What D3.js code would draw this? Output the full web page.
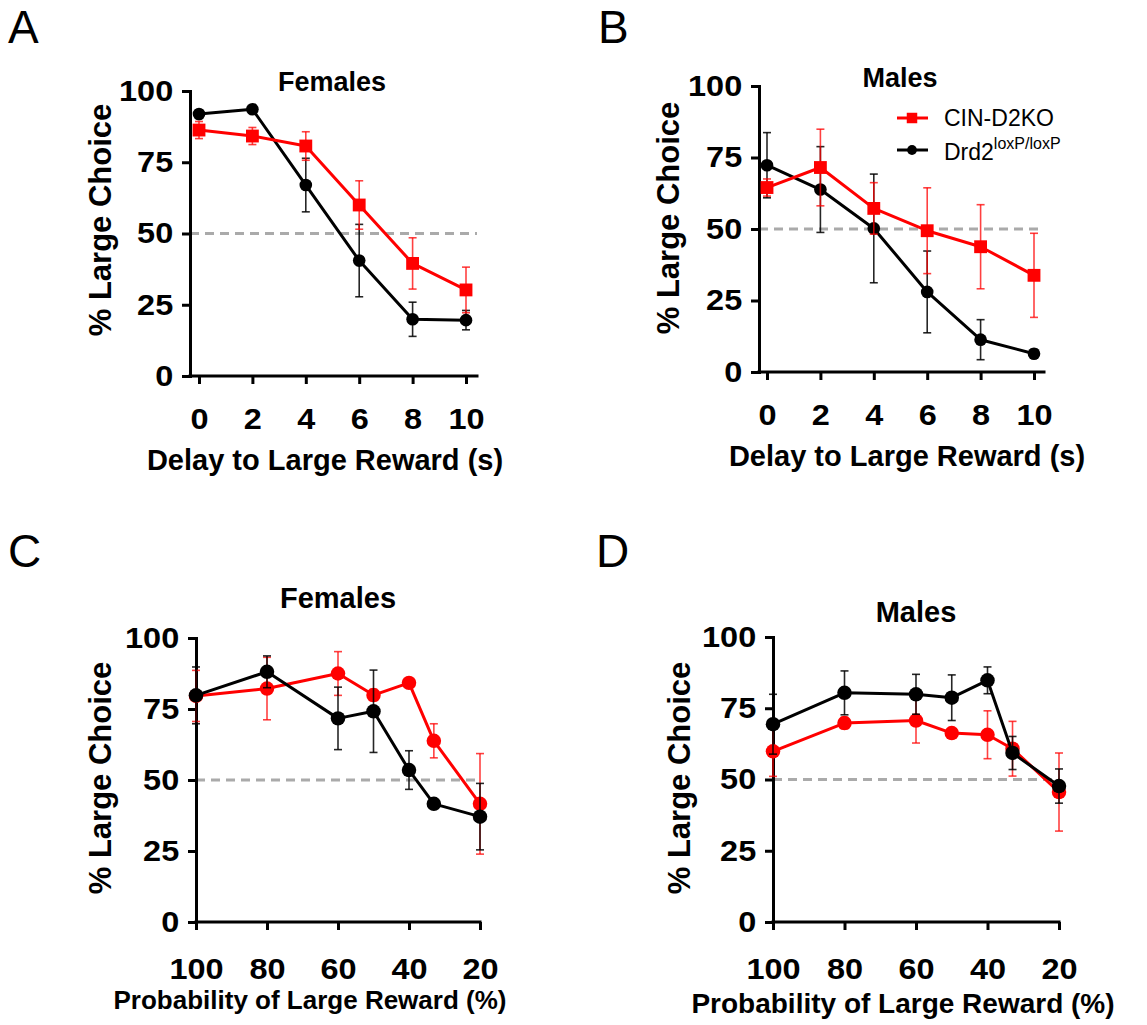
<!DOCTYPE html>
<html>
<head>
<meta charset="utf-8">
<script src="https://cdn.jsdelivr.net/npm/d3@7"></script>
<style>
body { margin: 0; background: #fff; }
text { font-family: "Liberation Sans", Arial, sans-serif; fill: #000; }
</style>
</head>
<body>
<svg id="fig" width="1147" height="1025"></svg>
<script>
// values (mean and sem, % large choice)
const delays = [0, 2, 4, 6, 8, 10]
const probs = [100, 80, 60, 50, 40, 33, 20]
const probTicks = [100, 80, 60, 40, 20]
const yTicks = [0, 25, 50, 75, 100]

const koFemDelay = [86.3, 84.2, 80.7, 60.0, 39.5, 30.2]
const koFemDelayErr = [3.0, 3.0, 5.0, 8.5, 9.0, 8.0]
const ctlFemDelay = [91.9, 93.6, 67.0, 40.5, 19.9, 19.6]
const ctlFemDelayErr = [1.5, 1.2, 9.4, 12.7, 6.0, 3.4]

const koMaleDelay = [64.5, 71.5, 57.2, 49.4, 43.8, 33.8]
const koMaleDelayErr = [3.0, 13.4, 9.0, 15.0, 14.7, 14.7]
const ctlMaleDelay = [72.3, 63.8, 50.2, 28.0, 11.3, 6.4]
const ctlMaleDelayErr = [11.4, 15.0, 19.0, 14.3, 7.0, 1.5]

const koFemProb = [79.6, 82.2, 87.5, 79.9, 84.2, 63.8, 41.6]
const koFemProbErr = [9.0, 11.0, 7.7, 2.0, 1.0, 6.0, 17.7]
const ctlFemProb = [79.8, 88.1, 71.7, 74.2, 53.5, 41.6, 37.1]
const ctlFemProbErr = [10.0, 5.6, 11.0, 14.5, 6.8, 1.0, 11.7]

const koMaleProb = [59.9, 69.8, 70.7, 66.3, 65.7, 60.8, 45.6]
const koMaleProbErr = [8.8, 2.0, 7.9, 1.5, 8.4, 9.6, 13.7]
const ctlMaleProb = [69.4, 80.4, 79.9, 78.7, 84.8, 59.3, 47.7]
const ctlMaleProbErr = [10.5, 7.7, 7.0, 8.0, 4.7, 5.8, 6.0]

const RED = '#ff0000'
const BLACK = '#000000'

const svg = d3.select('#fig')

const panels = [
  {
    letter: 'A', lx: 8, ly: 43, title: 'Females', tx: 332, ty: 91, tsize: 27,
    xs: delays, xTicks: delays, xDom: [0, 10], xRange: [199, 466],
    axisX: 190, axisEnd: 477, y0: 376, y100: 91, xPad: 24,
    xlabel: 'Delay to Large Reward (s)', xlx: 325, xly: 470, xlsize: 29,
    ylx: 111, yly: 220,
    ko: koFemDelay, koErr: koFemDelayErr, ctl: ctlFemDelay, ctlErr: ctlFemDelayErr,
    square: true, redTop: true
  },
  {
    letter: 'B', lx: 598, ly: 43, title: 'Males', tx: 900, ty: 87, tsize: 27,
    xs: delays, xTicks: delays, xDom: [0, 10], xRange: [767, 1034],
    axisX: 759, axisEnd: 1044, y0: 372, y100: 86, xPad: 24,
    xlabel: 'Delay to Large Reward (s)', xlx: 907, xly: 466, xlsize: 29,
    ylx: 679, yly: 218,
    ko: koMaleDelay, koErr: koMaleDelayErr, ctl: ctlMaleDelay, ctlErr: ctlMaleDelayErr,
    square: true, redTop: true, legend: true
  },
  {
    letter: 'C', lx: 8, ly: 567, title: 'Females', tx: 338, ty: 608, tsize: 29,
    xs: probs, xTicks: probTicks, xDom: [100, 20], xRange: [196, 480],
    axisX: 196, axisEnd: 480, y0: 922, y100: 638, xPad: 28,
    xlabel: 'Probability of Large Reward (%)', xlx: 310, xly: 1009, xlsize: 26,
    ylx: 111, yly: 778,
    ko: koFemProb, koErr: koFemProbErr, ctl: ctlFemProb, ctlErr: ctlFemProbErr,
    square: false, redTop: false
  },
  {
    letter: 'D', lx: 596, ly: 567, title: 'Males', tx: 916, ty: 622, tsize: 29,
    xs: probs, xTicks: probTicks, xDom: [100, 20], xRange: [773, 1059],
    axisX: 773, axisEnd: 1059, y0: 922, y100: 637, xPad: 28,
    xlabel: 'Probability of Large Reward (%)', xlx: 903, xly: 1013, xlsize: 28,
    ylx: 690, yly: 778,
    ko: koMaleProb, koErr: koMaleProbErr, ctl: ctlMaleProb, ctlErr: ctlMaleProbErr,
    square: false, redTop: false
  }
]

function draw_series(g, x, y, xs, vals, errs, color, square, big) {
  const pts = xs.map((d, i) => ({ x: d, v: vals[i], e: errs[i] }))

  // error bars first, line and markers over them
  const eb = g.append('g')
    .attr('stroke', color)
    .attr('stroke-width', 1.6)
    .attr('stroke-opacity', color === RED ? 0.75 : 0.85)
  pts.forEach(p => {
    const cx = x(p.x)
    eb.append('line').attr('x1', cx).attr('x2', cx)
      .attr('y1', y(p.v + p.e)).attr('y2', y(p.v - p.e))
    ;[p.v + p.e, p.v - p.e].forEach(v => {
      eb.append('line').attr('x1', cx - 4).attr('x2', cx + 4)
        .attr('y1', y(v)).attr('y2', y(v))
    })
  })

  g.append('path')
    .datum(pts)
    .attr('fill', 'none')
    .attr('stroke', color)
    .attr('stroke-width', 3)
    .attr('stroke-linejoin', 'round')
    .attr('d', d3.line().x(p => x(p.x)).y(p => y(p.v)))

  const sym = square
    ? d3.symbol().type(d3.symbolSquare).size(165)
    : d3.symbol().type(d3.symbolCircle).size(big ? 165 : 125)
  g.selectAll(null)
    .data(pts)
    .enter()
    .append('path')
    .attr('transform', p => `translate(${x(p.x)},${y(p.v)})`)
    .attr('d', sym)
    .attr('fill', color)
}

function draw_panel(p) {
  const g = svg.append('g')
  const x = d3.scaleLinear().domain(p.xDom).range(p.xRange)
  const y = d3.scaleLinear().domain([0, 100]).range([p.y0, p.y100])

  g.append('text')
    .attr('x', p.lx).attr('y', p.ly)
    .attr('font-size', 46)
    .text(p.letter)

  g.append('text')
    .attr('x', p.tx).attr('y', p.ty)
    .attr('text-anchor', 'middle')
    .attr('font-weight', 'bold')
    .attr('font-size', p.tsize)
    .text(p.title)

  // chance line
  g.append('line')
    .attr('x1', p.axisX).attr('x2', p.axisEnd)
    .attr('y1', y(50)).attr('y2', y(50))
    .attr('stroke', '#aaaaaa')
    .attr('stroke-width', 3)
    .attr('stroke-dasharray', '9,6')

  const yAxis = g.append('g')
    .attr('transform', `translate(${p.axisX},0)`)
    .call(d3.axisLeft(y).tickValues(yTicks).tickSize(8).tickPadding(7).tickSizeOuter(0))
  const xAxis = g.append('g')
    .attr('transform', `translate(0,${p.y0})`)
    .call(d3.axisBottom(x).tickValues(p.xTicks).tickSize(8).tickPadding(p.xPad).tickSizeOuter(0))
  xAxis.select('.domain').remove()
  xAxis.append('line')
    .attr('x1', p.axisX).attr('x2', p.axisEnd)
    .attr('stroke', '#000').attr('stroke-width', 3).attr('stroke-linecap', 'square')

  ;[yAxis, xAxis].forEach(a => {
    a.selectAll('.domain').attr('stroke-width', 3).attr('stroke-linecap', 'square')
    a.selectAll('.tick line').attr('stroke-width', 3)
    a.selectAll('.tick text')
      .attr('font-family', '"Liberation Sans", Arial, sans-serif')
      .attr('font-weight', 'bold')
      .attr('font-size', 29)
      .attr('fill', '#000')
  })
  yAxis.selectAll('.tick text').attr('transform', 'scale(1.12,1)')
  xAxis.selectAll('.tick text').attr('transform', 'scale(1.12,1)')

  g.append('text')
    .attr('x', p.xlx).attr('y', p.xly)
    .attr('text-anchor', 'middle')
    .attr('font-weight', 'bold')
    .attr('font-size', p.xlsize)
    .text(p.xlabel)

  g.append('text')
    .attr('transform', `translate(${p.ylx},${p.yly}) rotate(-90)`)
    .attr('text-anchor', 'middle')
    .attr('font-weight', 'bold')
    .attr('font-size', 31)
    .text('% Large Choice')

  const big = !p.square
  if (p.redTop) {
    draw_series(g, x, y, p.xs, p.ctl, p.ctlErr, BLACK, false, big)
    draw_series(g, x, y, p.xs, p.ko, p.koErr, RED, p.square, big)
  } else {
    draw_series(g, x, y, p.xs, p.ko, p.koErr, RED, p.square, big)
    draw_series(g, x, y, p.xs, p.ctl, p.ctlErr, BLACK, false, big)
  }

  if (p.legend) {
    const lg = g.append('g')
    const rows = [
      { color: RED, square: true, y: 118 },
      { color: BLACK, square: false, y: 150 }
    ]
    rows.forEach(r => {
      lg.append('line')
        .attr('x1', 897).attr('x2', 928).attr('y1', r.y).attr('y2', r.y)
        .attr('stroke', r.color).attr('stroke-width', 3)
      lg.append('path')
        .attr('transform', `translate(912,${r.y})`)
        .attr('d', d3.symbol().type(r.square ? d3.symbolSquare : d3.symbolCircle).size(r.square ? 110 : 75))
        .attr('fill', r.color)
    })
    lg.append('text')
      .attr('x', 944).attr('y', 126)
      .attr('font-size', 23)
      .text('CIN-D2KO')
    const t2 = lg.append('text')
      .attr('x', 944).attr('y', 160)
      .attr('font-size', 23)
    t2.append('tspan').text('Drd2')
    t2.append('tspan').attr('font-size', 16).attr('dy', -11).text('loxP/loxP')
  }
}

panels.forEach(draw_panel)
</script>
</body>
</html>
